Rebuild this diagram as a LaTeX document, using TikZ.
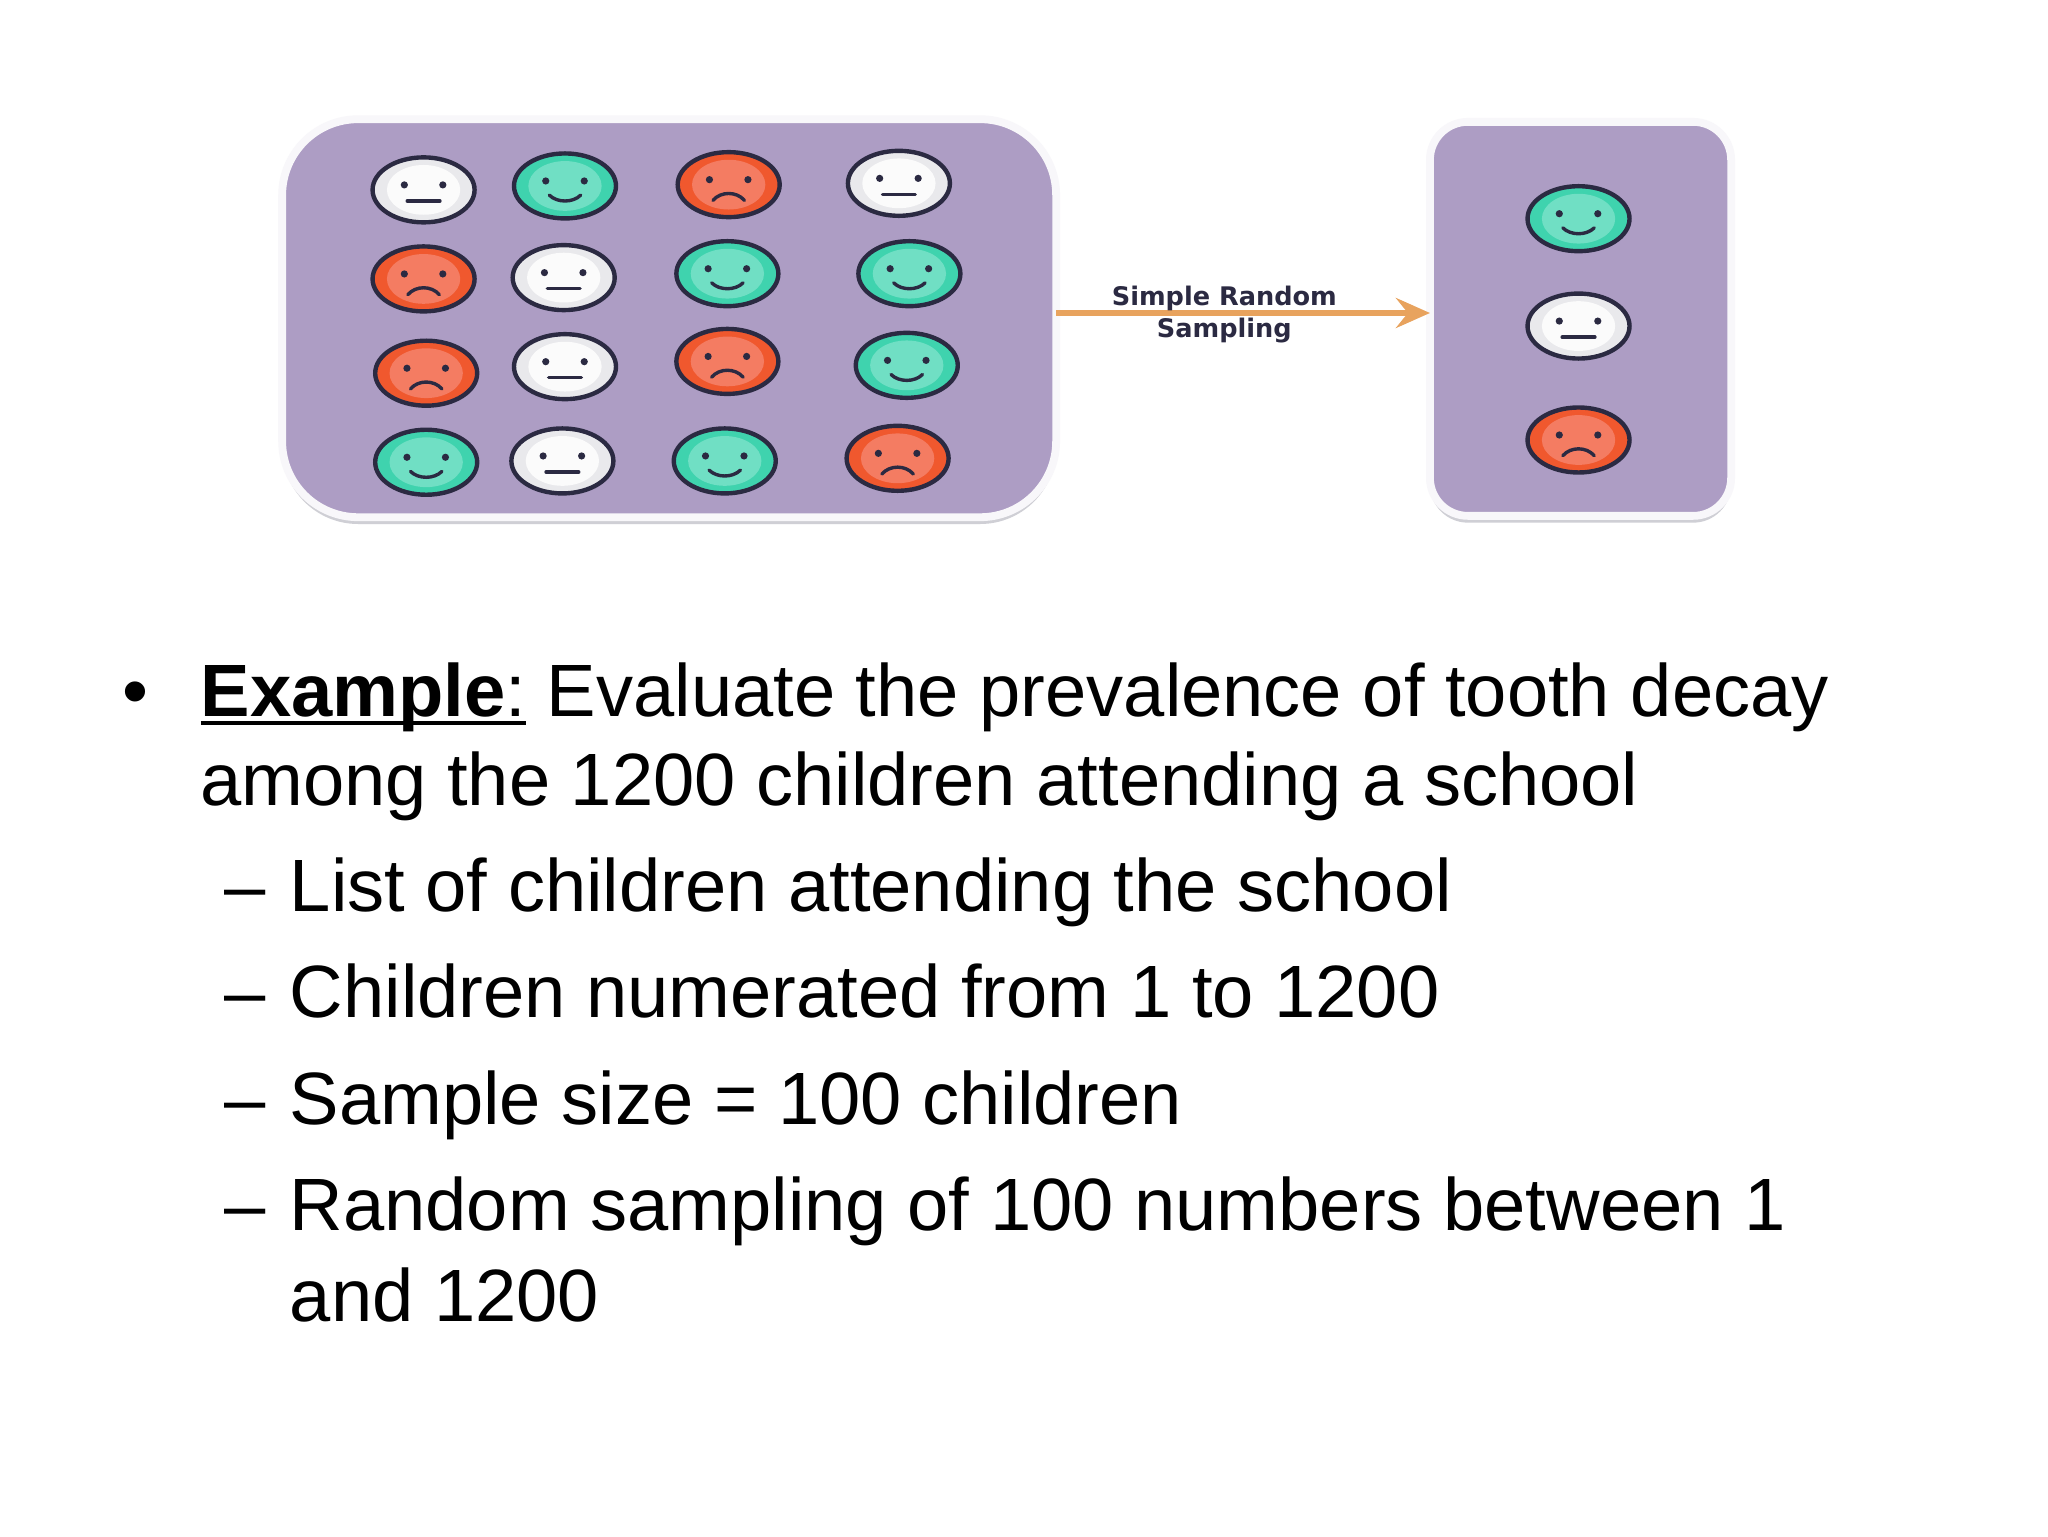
\documentclass[tikz,border=0pt]{standalone}
\usepackage{fontspec}
\setmainfont{Liberation Sans}
\newfontfamily\lblfont{DejaVu Sans}
\usetikzlibrary{arrows.meta,shadows,shapes.geometric}
\definecolor{lav}{HTML}{AD9DC4}
\definecolor{rimc}{HTML}{F8F7FA}
\definecolor{shc}{HTML}{CFCFD5}
\definecolor{inkc}{HTML}{2B2A42}
\definecolor{arrowc}{HTML}{E8A35E}
\definecolor{gout}{HTML}{3FD3AE}\definecolor{gin}{HTML}{70DFC4}
\definecolor{rout}{HTML}{F0582E}\definecolor{rin}{HTML}{F47C62}
\definecolor{wout}{HTML}{E9E9EC}\definecolor{win}{HTML}{FBFBFB}
\newsavebox\exbox
\newcommand\bodyfont{\fontsize{37.07pt}{44pt}\selectfont}
\tikzset{
  x=0.65473pt,y=-0.65473pt,
  panel/.style={draw=rimc,line width=3.9pt,fill=lav,inner sep=0pt,outer sep=0pt,
    drop shadow={shadow xshift=0pt,shadow yshift=-3.4pt,fill=shc,opacity=1}},
  facebase/.style={ellipse,draw=inkc,line width=2.2pt,inner sep=0pt,minimum width=51pt,minimum height=32.5pt},
  bodytext/.style={anchor=base west,inner sep=0pt,font=\bodyfont,text=black},
  lbl/.style={inner sep=0pt,font=\lblfont\bfseries\fontsize{12.8pt}{14pt}\selectfont,text=inkc},
  link/.style={draw=arrowc,line width=3.4pt,-{Stealth[length=17pt,width=15pt,inset=6pt]}},
  facemark/.style={draw=inkc,line width=1.7pt,line cap=round},
}
% \facepic{name}{x}{y}{outer}{inner}{kind: 1 smile, 0 neutral, -1 frown}
\newcommand\facepic[6]{%
  \node[facebase,fill=#4] (#1) at (#2,#3) {};
  \fill[#5] (#2,#3) ellipse [x radius=28,y radius=19];
  \fill[inkc] (#2-14.7,#3-3.8) circle (1.8pt) (#2+14.7,#3-3.8) circle (1.8pt);
  \ifnum#6=1 \draw[facemark] (#2-12,#3+7) .. controls (#2-6,#3+13) and (#2+6,#3+13) .. (#2+12,#3+7);\fi
  \ifnum#6=0 \draw[facemark] (#2-12.5,#3+8.5) -- (#2+12.5,#3+8.5);\fi
  \ifnum#6=-1 \draw[facemark] (#2-12,#3+12) .. controls (#2-6,#3+5) and (#2+6,#3+5) .. (#2+12,#3+12);\fi
}
\newcommand\gface[3]{\facepic{#1}{#2}{#3}{gout}{gin}{1}}
\newcommand\wface[3]{\facepic{#1}{#2}{#3}{wout}{win}{0}}
\newcommand\rface[3]{\facepic{#1}{#2}{#3}{rout}{rin}{-1}}
\begin{document}
\sbox\exbox{\bodyfont\textbf{Example}:}%
\begin{tikzpicture}
\useasboundingbox (0,0) rectangle (1564,1173);
\fill[white] (0,0) rectangle (1564,1173);
\node[panel,rounded corners=38pt,minimum width=387pt,minimum height=199pt] (large) at (511,243) {};
\node[panel,rounded corners=19pt,minimum width=150.6pt,minimum height=197pt] (small) at (1207,243.5) {};
\begin{scope}[xshift=-1pt]
% population
\wface{a1}{325}{145}\gface{a2}{433}{142}\rface{a3}{558}{141}\wface{a4}{688}{140}
\rface{b1}{325}{213}\wface{b2}{432}{212}\gface{b3}{557}{209}\gface{b4}{696}{209}
\rface{c1}{327}{285}\wface{c2}{433}{280}\rface{c3}{557}{276}\gface{c4}{694}{279}
\gface{d1}{327}{353}\wface{d2}{431}{352}\gface{d3}{555}{352}\rface{d4}{687}{350}
% sample
\gface{s1}{1207}{167}\wface{s2}{1207}{249}\rface{s3}{1207}{336}
\end{scope}
% arrow
\coordinate (from) at ([yshift=2.6pt]large.east);
\coordinate (to) at (small.west |- from);
\draw[link] (from) -- (to);
\node[lbl] (l1) at (935,228) {Simple Random};
\node[lbl] (l2) at (935,252.5) {Sampling};
% text
\node[bodytext] (bul) at (93,547) {•};
\node[bodytext] (t1) at (153,547) {\rlap{\rule[-4.6pt]{\wd\exbox}{2pt}}\usebox\exbox{} Evaluate the prevalence of tooth decay};
\node[bodytext] (t2) at (152.5,615) {among the 1200 children attending a school};
\node[bodytext] (d1m) at (171,696) {–};
\node[bodytext] (t3) at (221,696) {List of children attending the school};
\node[bodytext] (d2m) at (171,777) {–};
\node[bodytext] (t4) at (221,777) {Children numerated from 1 to 1200};
\node[bodytext] (d3m) at (171,859) {–};
\node[bodytext] (t5) at (221,859) {Sample size = 100 children};
\node[bodytext] (d4m) at (171,940) {–};
\node[bodytext] (t6) at (221,940) {Random sampling of 100 numbers between 1};
\node[bodytext] (t7) at (221,1009) {and 1200};
\end{tikzpicture}
\end{document}
